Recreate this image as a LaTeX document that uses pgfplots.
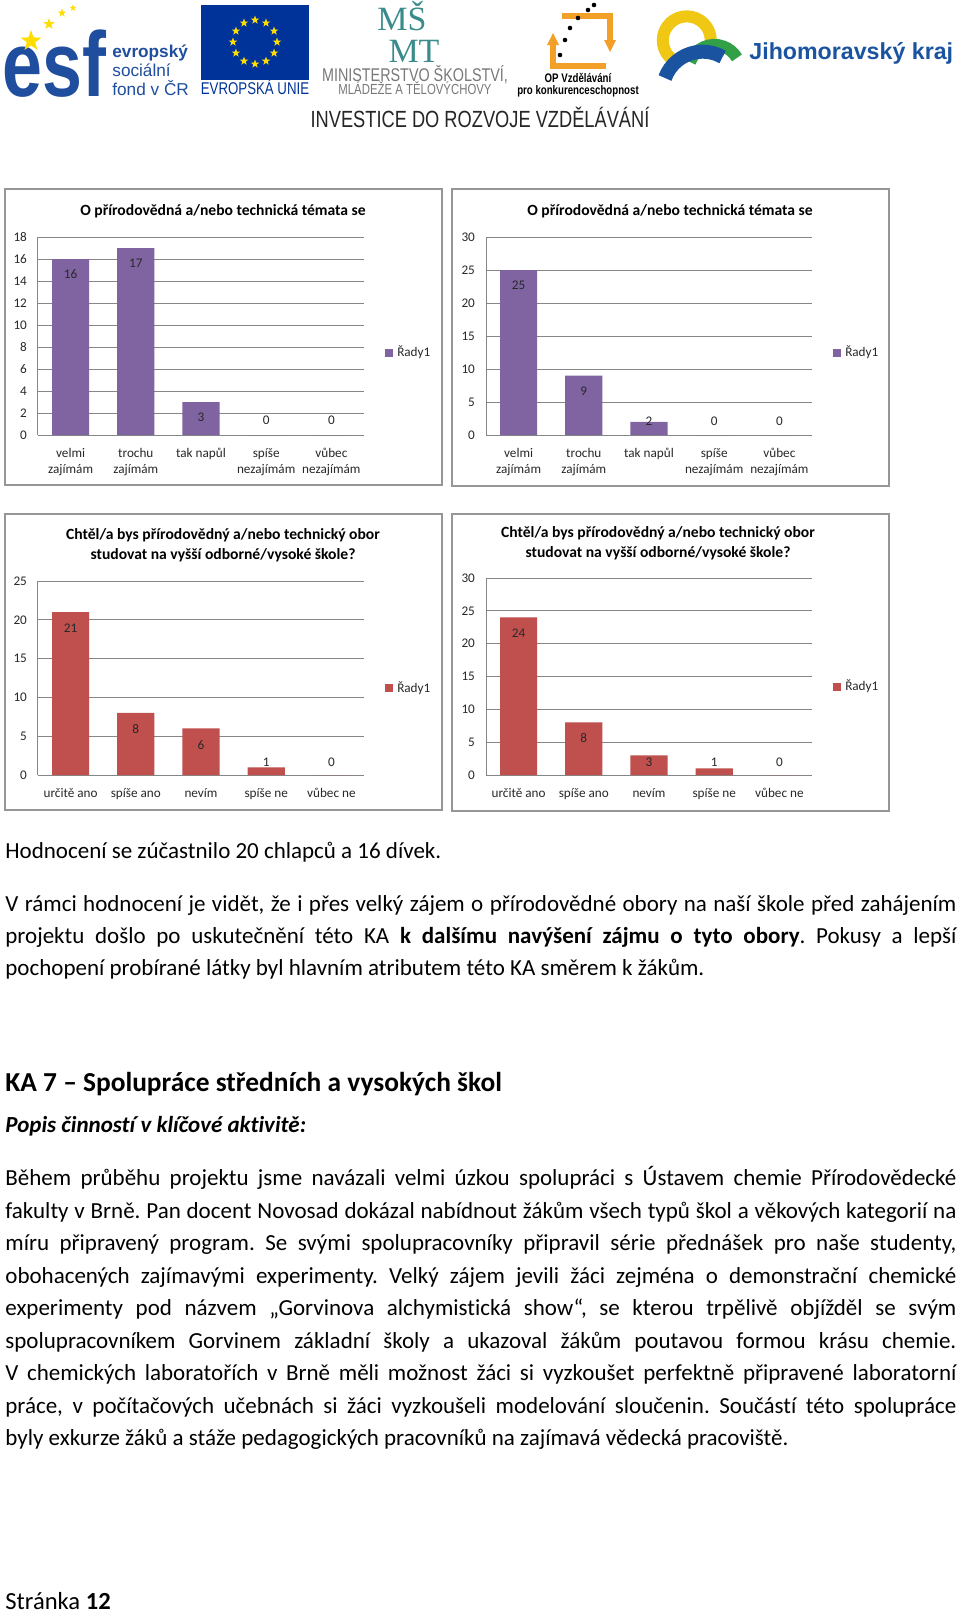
\documentclass[border=0pt]{standalone}
\usepackage{fontspec}
\setmainfont[Ligatures=NoCommon]{Carlito}
\newfontfamily\lsans{Liberation Sans}
\newfontfamily\lsansb{Liberation Sans Bold}
\newfontfamily\lnarrow[FakeStretch=0.78]{Liberation Sans}
\newfontfamily\lnarrowb[FakeStretch=0.78]{Liberation Sans Bold}
\newfontfamily\lserif{Liberation Serif}
\usepackage{pgfplots}
\usetikzlibrary{shapes.geometric}
\pgfplotsset{compat=1.18}
\frenchspacing
\definecolor{purp}{RGB}{128,100,162}
\definecolor{redb}{RGB}{192,80,77}
\definecolor{gridc}{RGB}{134,134,134}
\definecolor{framec}{RGB}{150,150,150}
\definecolor{txt}{RGB}{40,40,40}
\definecolor{esfblue}{RGB}{32,78,158}
\definecolor{eublue}{RGB}{0,51,153}
\definecolor{euyellow}{RGB}{255,221,0}
\definecolor{msmt}{RGB}{58,140,140}
\definecolor{msmtgray}{RGB}{120,120,120}
\definecolor{oporange}{RGB}{243,160,40}
\definecolor{jmkblue}{RGB}{26,84,160}
\definecolor{jmkgreen}{RGB}{50,160,70}
\definecolor{jmkyellow}{RGB}{240,200,20}
\newcommand\chartfont{\fontsize{6.6}{8}\selectfont}
\newcommand\bodyfont{\fontsize{11.5}{16}\selectfont}
\pgfplotsset{
 barchart/.style={
  anchor=south west, scale only axis, width=163pt,
  xmin=-0.5, xmax=4.5, ymin=0,
  xtick={0,1,2,3,4},
  /pgf/number format/assume math mode=true,
  axis x line*=bottom, axis y line*=left,
  axis line style={draw=gridc, line width=0.5pt},
  ymajorgrids, grid style={draw=gridc, line width=0.5pt},
  major tick length=0pt,
  tick label style={font=\chartfont, text=txt},
  xticklabel style={align=center, anchor=north, yshift=-3pt},
  yticklabel style={anchor=east, xshift=-2pt},
  legend style={draw=none, fill=none, font=\chartfont, text=txt, anchor=west, inner sep=0pt, cells={anchor=west}},
  legend image code/.code={\fill[##1,draw=none] (0pt,-2pt) rectangle (4pt,2pt);},
  clip=false,
 },
 vlabels/.style={draw=none, mark=none, nodes near coords, point meta=explicit,
   nodes near coords style={anchor=center, font=\chartfont, text=txt, inner sep=0pt}},
}
\begin{document}
\begin{tikzpicture}[x=0.5pt,y=-0.5pt,
  ystar/.style={star, star points=5, star point ratio=2.5, fill=euyellow, draw=none, inner sep=0pt},
  esft/.style={anchor=base west, inner sep=0pt, text=esfblue}]
\fill[white] (0,0) rectangle (960,1613);
\path[use as bounding box] (0,0) rectangle (960,1613);

% ---------- logos ----------
\node[anchor=base west, inner sep=0pt, text=esfblue, font=\lnarrowb\fontsize{46}{46}\selectfont] at (2,96) {esf};
\node[ystar, minimum size=11pt] at (31,41) {};
\node[ystar, minimum size=6pt] at (49,24) {};
\node[ystar, minimum size=4.5pt] at (62,13) {};
\node[ystar, minimum size=3.5pt] at (73,8) {};
\node[esft, font=\lsansb\fontsize{8.6}{8.6}\selectfont] at (112,57) {evropský};
\node[esft, font=\lsans\fontsize{8.6}{8.6}\selectfont] at (112,76) {sociální};
\node[esft, font=\lsans\fontsize{8.6}{8.6}\selectfont] at (112,95) {fond v ČR};
\fill[eublue] (201,5) rectangle (309,80);
\foreach \a in {0,30,...,330}
  \node[ystar, minimum size=4.5pt] at ({255+22*cos(\a)},{42+22*sin(\a)}) {};
\node[anchor=base, inner sep=0pt, text=eublue, font=\lnarrow\fontsize{8.5}{8.5}\selectfont] at (255,94) {EVROPSKÁ UNIE};
\node[anchor=base, inner sep=0pt, text=msmt, font=\lserif\fontsize{17}{17}\selectfont] at (402,30) {MŠ};
\node[anchor=base, inner sep=0pt, text=msmt, font=\lserif\fontsize{17}{17}\selectfont] at (414,62) {MT};
\node[anchor=base, inner sep=0pt, text=msmtgray, font=\lnarrow\fontsize{9.2}{9.2}\selectfont] at (415,81) {MINISTERSTVO ŠKOLSTVÍ,};
\node[anchor=base, inner sep=0pt, text=msmtgray, font=\lnarrow\fontsize{7.3}{7.3}\selectfont] at (415,94) {MLÁDEŽE A TĚLOVÝCHOVY};
\draw[oporange, line width=3pt] (562,16) -- (610,16) -- (610,40);
\draw[oporange, line width=3pt] (553,45) -- (553,66) -- (606,66);
\fill[oporange] (604,40) -- (616,40) -- (610,52) -- cycle;
\fill[oporange] (547,45) -- (559,45) -- (553,33) -- cycle;
\foreach \p in {(560,55),(565,40),(570,28),(578,18),(588,10),(594,5)}
  \fill[black] \p circle (2.3);
\node[anchor=base, inner sep=0pt, font=\lnarrowb\fontsize{6.2}{6.2}\selectfont] at (578,82) {OP Vzdělávání};
\node[anchor=base, inner sep=0pt, font=\lnarrowb\fontsize{6.2}{6.2}\selectfont] at (578,94) {pro konkurenceschopnost};
\draw[jmkyellow, line width=6pt] (673,60) arc[start angle=125, end angle=375, radius=24];
\draw[jmkgreen, line width=6pt] (690,62) arc[start angle=200, end angle=330, radius=26];
\draw[jmkblue, line width=7pt] (665,78) arc[start angle=200, end angle=300, radius=40];
\node[anchor=base west, inner sep=0pt, text=jmkblue, font=\lsansb\fontsize{11.6}{11.6}\selectfont] at (749,59) {Jihomoravský kraj};
\node[anchor=base, inner sep=0pt, text=black!85, font=\lnarrow\fontsize{11.7}{11.7}\selectfont] at (480,127) {INVESTICE DO ROZVOJE VZDĚLÁVÁNÍ};

% ---------- chart frames ----------
\draw[framec, line width=0.6pt] (5,189) rectangle (442,485);
\draw[framec, line width=0.6pt] (452,189) rectangle (889,486);
\draw[framec, line width=0.6pt] (5,514) rectangle (442,810);
\draw[framec, line width=0.6pt] (452,514) rectangle (889,811);

\node[font=\bfseries\fontsize{7.8}{9}\selectfont] at (223,211) {O přírodovědná a/nebo technická témata se};
\node[font=\bfseries\fontsize{7.8}{9}\selectfont] at (670,211) {O přírodovědná a/nebo technická témata se};
\node[font=\bfseries\fontsize{7.8}{10}\selectfont, align=center] at (223,545) {Chtěl/a bys přírodovědný a/nebo technický obor\\studovat na vyšší odborné/vysoké škole?};
\node[font=\bfseries\fontsize{7.8}{10}\selectfont, align=center] at (658,543) {Chtěl/a bys přírodovědný a/nebo technický obor\\studovat na vyšší odborné/vysoké škole?};

% ---------- chart 1 ----------
\begin{axis}[barchart, at={(19pt,-217.5pt)}, height=99pt, ymax=18, ytick={0,2,...,18},
 xticklabels={{velmi\\zajímám},{trochu\\zajímám},{tak napůl},{spíše\\nezajímám},{vůbec\\nezajímám}},
 legend style={at={(1.064,0.414)}}]
\addplot[ybar, bar width=0.57, fill=purp, draw=none] coordinates {(0,16) (1,17) (2,3) (3,0) (4,0)};
\addlegendentry{Řady1}
\addplot[vlabels, forget plot] table[x=x,y=y,meta=v]{
x y v
0 14.6 16
1 15.6 17
2 1.6 3
3 1.3 0
4 1.3 0
};
\end{axis}

% ---------- chart 2 ----------
\begin{axis}[barchart, at={(243pt,-217.5pt)}, height=99pt, ymax=30, ytick={0,5,...,30},
 xticklabels={{velmi\\zajímám},{trochu\\zajímám},{tak napůl},{spíše\\nezajímám},{vůbec\\nezajímám}},
 legend style={at={(1.064,0.414)}}]
\addplot[ybar, bar width=0.57, fill=purp, draw=none] coordinates {(0,25) (1,9) (2,2) (3,0) (4,0)};
\addlegendentry{Řady1}
\addplot[vlabels, forget plot] table[x=x,y=y,meta=v]{
x y v
0 22.7 25
1 6.7 9
2 2.1 2
3 2.1 0
4 2.1 0
};
\end{axis}

% ---------- chart 3 ----------
\begin{axis}[barchart, at={(19pt,-387.5pt)}, height=97pt, ymax=25, ytick={0,5,...,25},
 xticklabels={{určitě ano},{spíše ano},{nevím},{spíše ne},{vůbec ne}},
 legend style={at={(1.064,0.448)}}]
\addplot[ybar, bar width=0.57, fill=redb, draw=none] coordinates {(0,21) (1,8) (2,6) (3,1) (4,0)};
\addlegendentry{Řady1}
\addplot[vlabels, forget plot] table[x=x,y=y,meta=v]{
x y v
0 18.9 21
1 5.9 8
2 3.9 6
3 1.7 1
4 1.7 0
};
\end{axis}

% ---------- chart 4 ----------
\begin{axis}[barchart, at={(243pt,-387.5pt)}, height=98.5pt, ymax=30, ytick={0,5,...,30},
 xticklabels={{určitě ano},{spíše ano},{nevím},{spíše ne},{vůbec ne}},
 legend style={at={(1.064,0.447)}}]
\addplot[ybar, bar width=0.57, fill=redb, draw=none] coordinates {(0,24) (1,8) (2,3) (3,1) (4,0)};
\addlegendentry{Řady1}
\addplot[vlabels, forget plot] table[x=x,y=y,meta=v]{
x y v
0 21.6 24
1 5.6 8
2 2.0 3
3 2.0 1
4 2.0 0
};
\end{axis}

% ---------- body text ----------
\node[anchor=base west, inner sep=0pt, font=\bodyfont] at (5,858) {Hodnocení se zúčastnilo 20 chlapců a 16 dívek.};
\node[anchor=base west, inner sep=0pt, font=\bodyfont] at (5,911) {\makebox[475.5pt][s]{V rámci hodnocení je vidět, že i přes velký zájem o přírodovědné obory na naší škole před zahájením}};
\node[anchor=base west, inner sep=0pt, font=\bodyfont] at (5,943) {\makebox[475.5pt][s]{projektu došlo po uskutečnění této KA \textbf{k dalšímu navýšení zájmu o tyto obory}. Pokusy a lepší}};
\node[anchor=base west, inner sep=0pt, font=\bodyfont] at (5,975) {pochopení probírané látky byl hlavním atributem této KA směrem k žákům.};

\node[anchor=base west, inner sep=0pt, font=\bfseries\fontsize{13.7}{16}\selectfont] at (5,1091) {KA 7 – Spolupráce středních a vysokých škol};
\node[anchor=base west, inner sep=0pt, font=\bodyfont] at (5,1132) {\textbf{\textit{Popis činností v klíčové aktivitě:}}};

\node[anchor=base west, inner sep=0pt, font=\bodyfont] at (5,1185) {\makebox[475.5pt][s]{Během průběhu projektu jsme navázali velmi úzkou spolupráci s Ústavem chemie Přírodovědecké}};
\node[anchor=base west, inner sep=0pt, font=\bodyfont] at (5,1218) {\makebox[475.5pt][s]{fakulty v Brně. Pan docent Novosad dokázal nabídnout žákům všech typů škol a věkových kategorií na}};
\node[anchor=base west, inner sep=0pt, font=\bodyfont] at (5,1250) {\makebox[475.5pt][s]{míru připravený program. Se svými spolupracovníky připravil série přednášek pro naše studenty,}};
\node[anchor=base west, inner sep=0pt, font=\bodyfont] at (5,1283) {\makebox[475.5pt][s]{obohacených zajímavými experimenty. Velký zájem jevili žáci zejména o demonstrační chemické}};
\node[anchor=base west, inner sep=0pt, font=\bodyfont] at (5,1315) {\makebox[475.5pt][s]{experimenty pod názvem „Gorvinova alchymistická show“, se kterou trpělivě objížděl se svým}};
\node[anchor=base west, inner sep=0pt, font=\bodyfont] at (5,1348) {\makebox[475.5pt][s]{spolupracovníkem Gorvinem základní školy a ukazoval žákům poutavou formou krásu chemie.}};
\node[anchor=base west, inner sep=0pt, font=\bodyfont] at (5,1380) {\makebox[475.5pt][s]{V chemických laboratořích v Brně měli možnost žáci si vyzkoušet perfektně připravené laboratorní}};
\node[anchor=base west, inner sep=0pt, font=\bodyfont] at (5,1413) {\makebox[475.5pt][s]{práce, v počítačových učebnách si žáci vyzkoušeli modelování sloučenin. Součástí této spolupráce}};
\node[anchor=base west, inner sep=0pt, font=\bodyfont] at (5,1445) {byly exkurze žáků a stáže pedagogických pracovníků na zajímavá vědecká pracoviště.};

\node[anchor=base west, inner sep=0pt, font=\fontsize{12.3}{14}\selectfont] at (5,1609) {Stránka \textbf{12}};
\end{tikzpicture}
\end{document}
